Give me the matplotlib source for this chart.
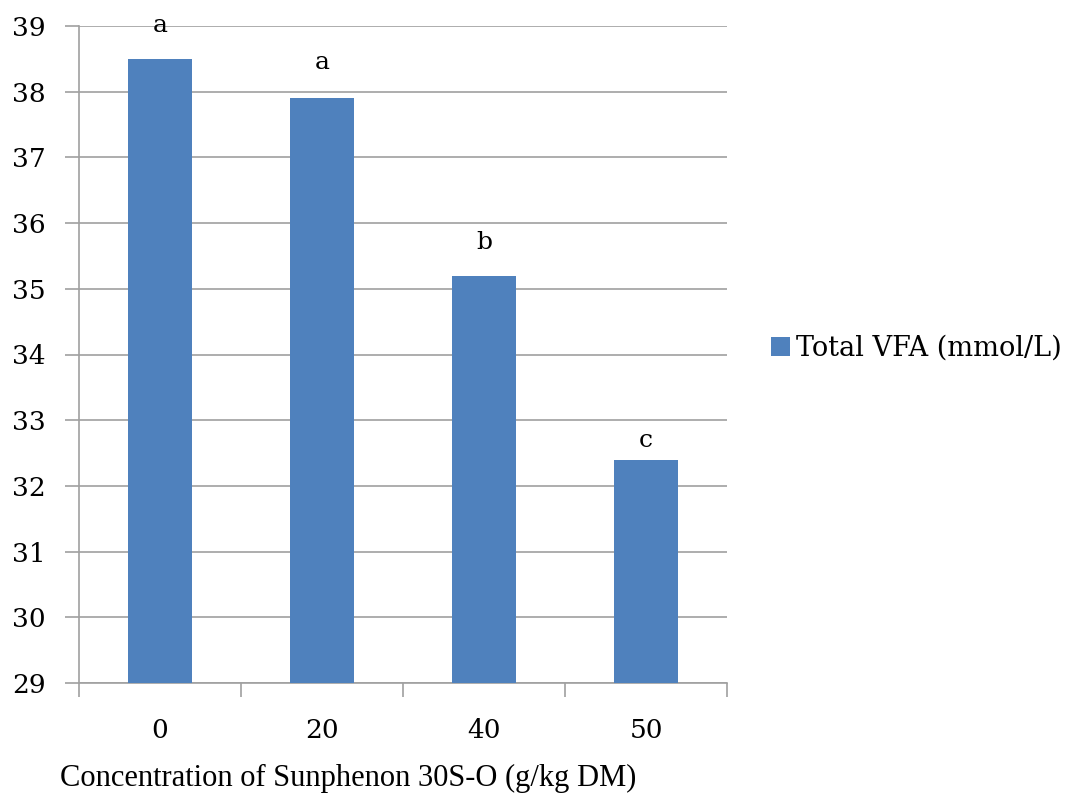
import numpy as np
import matplotlib.pyplot as plt

# data
concentrations = ['0', '20', '40', '50']
total_vfa = [38.5, 37.9, 35.2, 32.4]
letters = ['a', 'a', 'b', 'c']
letter_offsets = [24, 26, 24, 14]  # points above bar top

bar_color = '#4f81bd'
grid_color = '#a0a0a0'

plt.rcParams['font.family'] = ['DejaVu Serif']

fig = plt.figure(figsize=(10.82, 7.98), dpi=100)
ax = fig.add_axes([79 / 1082, 1 - 683 / 798, (727 - 79) / 1082, (683 - 26) / 798])

x = np.arange(len(concentrations))
bars = ax.bar(x, total_vfa, width=0.4, color=bar_color, zorder=3,
              label='Total VFA (mmol/L)')

for xi, val, lab, off in zip(x, total_vfa, letters, letter_offsets):
    ax.annotate(lab, (xi, val), xytext=(0, off), textcoords='offset points',
                ha='center', va='center', fontsize=18)

ax.set_xlim(-0.5, len(concentrations) - 0.5)
ax.set_ylim(29, 39)
ax.set_yticks(np.arange(29, 40, 1))
ax.yaxis.grid(True, color=grid_color, lw=1.2, zorder=0)

# category ticks at boundaries, labels at centers
ax.set_xticks(np.arange(-0.5, len(concentrations), 1))
ax.set_xticklabels([])
ax.set_xticks(x, minor=True)
ax.set_xticklabels(concentrations, minor=True)
ax.tick_params(axis='x', which='minor', length=0, pad=25, labelsize=19)
ax.tick_params(axis='x', which='major', length=10, color=grid_color, width=1.2)
ax.tick_params(axis='y', length=10, color=grid_color, width=1.2, labelsize=19, pad=14)

for side in ['top', 'right']:
    ax.spines[side].set_visible(False)
for side in ['left', 'bottom']:
    ax.spines[side].set_color(grid_color)
    ax.spines[side].set_linewidth(1.2)

fig.text(60 / 1082, 1 - 778 / 798, 'Concentration of Sunphenon 30S-O (g/kg DM)',
         fontsize=22, ha='left', va='center', family='Liberation Serif')

fig.legend(handles=[bars], labels=['Total VFA (mmol/L)'], loc='center left',
           bbox_to_anchor=(747 / 1082, 1 - 348 / 798), frameon=False,
           fontsize=19.5, handlelength=0.7, handleheight=0.7, handletextpad=0.2)

fig.savefig('out.png', dpi=100)
